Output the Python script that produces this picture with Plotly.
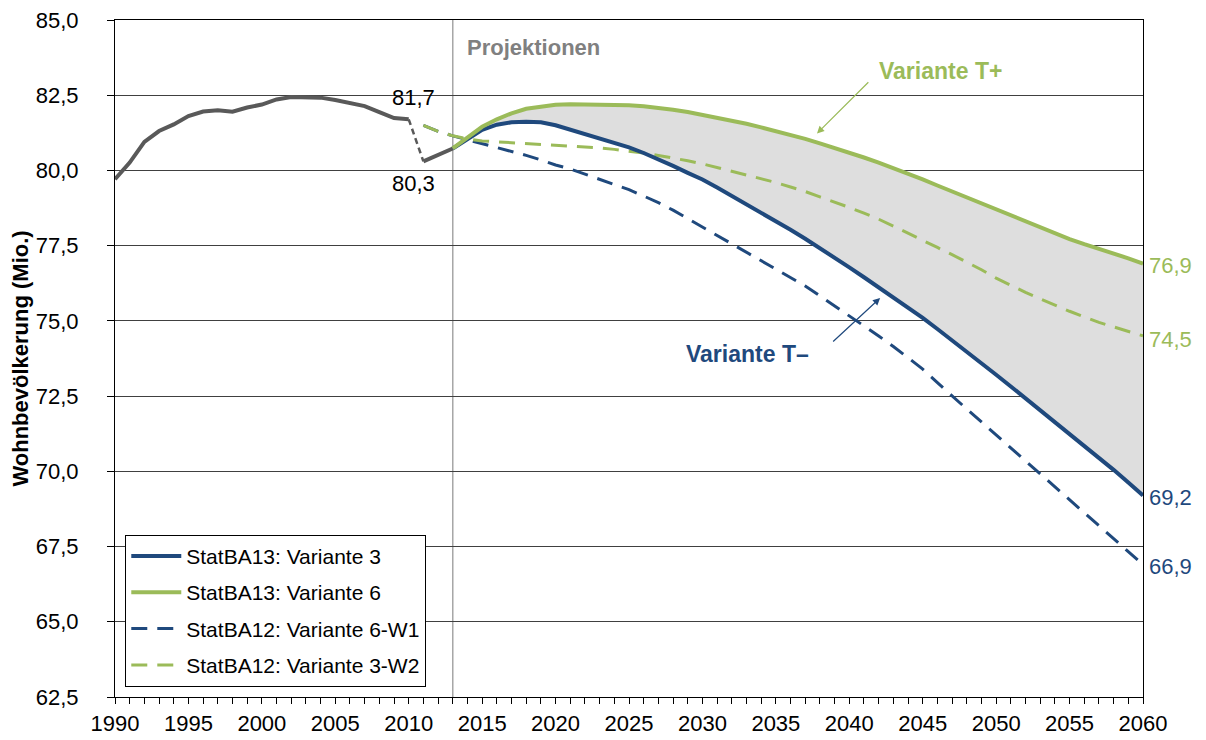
import plotly.graph_objects as go

# ---------------- data ----------------
hist_years = list(range(1990, 2011))
hist_vals = [79.71, 80.26, 80.95, 81.31, 81.53, 81.81, 81.96, 82.0, 81.95, 82.09, 82.19,
             82.36, 82.44, 82.44, 82.42, 82.34, 82.23, 82.14, 81.94, 81.74, 81.7]
census_years = [2010, 2011]
census_vals = [81.7, 80.3]
post_years = [2011, 2012, 2013]
post_vals = [80.3, 80.51, 80.73]

proj_years = list(range(2013, 2061))
v6 = [80.73, 81.1, 81.45, 81.7, 81.9, 82.05, 82.13, 82.18, 82.2, 82.2, 82.2, 82.19, 82.17,
      82.13, 82.08, 82.02, 81.94, 81.85, 81.76, 81.66, 81.55, 81.43, 81.31, 81.18, 81.05,
      80.9, 80.75, 80.6, 80.43, 80.26, 80.08, 79.9, 79.7, 79.5, 79.3, 79.1, 78.9, 78.7,
      78.5, 78.3, 78.1, 77.9, 77.72, 77.55, 77.4, 77.25, 77.08, 76.9]
v3 = [80.73, 81.05, 81.35, 81.52, 81.6, 81.62, 81.6, 81.5, 81.35, 81.2, 81.07, 80.92, 80.77,
      80.58, 80.38, 80.15, 79.92, 79.7, 79.43, 79.15, 78.9, 78.62, 78.33, 78.03, 77.73,
      77.42, 77.1, 76.78, 76.45, 76.12, 75.78, 75.44, 75.1, 74.73, 74.36, 73.98, 73.6,
      73.21, 72.82, 72.43, 72.04, 71.65, 71.25, 70.85, 70.45, 70.05, 69.63, 69.2]

old_years = list(range(2011, 2061))
v3w2 = [81.5, 81.3, 81.15, 81.05, 80.98, 80.95, 80.92, 80.89, 80.86, 80.84, 80.82, 80.79,
        80.75, 80.7, 80.65, 80.58, 80.5, 80.42, 80.32, 80.22, 80.1, 79.98, 79.86, 79.73,
        79.6, 79.45, 79.3, 79.12, 78.95, 78.77, 78.58, 78.38, 78.15, 77.92, 77.68, 77.44,
        77.2, 76.95, 76.7, 76.42, 76.18, 75.95, 75.73, 75.52, 75.32, 75.13, 74.95, 74.8,
        74.65, 74.5]
v6w1 = [81.5, 81.3, 81.15, 81.02, 80.9, 80.78, 80.64, 80.5, 80.35, 80.18, 80.05, 79.88,
        79.72, 79.55, 79.36, 79.15, 78.93, 78.68, 78.4, 78.12, 77.84, 77.56, 77.28, 77.0,
        76.72, 76.44, 76.16, 75.83, 75.5, 75.16, 74.82, 74.5, 74.15, 73.78, 73.4, 72.95,
        72.5, 72.07, 71.64, 71.21, 70.78, 70.35, 69.92, 69.49, 69.06, 68.63, 68.2, 67.77,
        67.33, 66.9]

names = ["StatBA13: Variante 3", "StatBA13: Variante 6",
         "StatBA12: Variante 6-W1", "StatBA12: Variante 3-W2"]
y_ticks = [62.5, 65.0, 67.5, 70.0, 72.5, 75.0, 77.5, 80.0, 82.5, 85.0]
x_ticks = list(range(1990, 2061, 5))

# ---------------- styles ----------------
BLUE = "#1F497D"
GREEN = "#9BBB59"
GRAY = "#595959"
FILL = "#DEDEDE"
FONT = "Liberation Sans, Arial, sans-serif"
DASH = "16px,10px"

fig = go.Figure()

# gray band between the two StatBA13 variants
fig.add_trace(go.Scatter(x=proj_years, y=v3, mode="lines", line=dict(width=0),
                         showlegend=False, hoverinfo="skip"))
fig.add_trace(go.Scatter(x=proj_years, y=v6, mode="lines", line=dict(width=0),
                         fill="tonexty", fillcolor=FILL, showlegend=False, hoverinfo="skip"))

# dashed old projections (blue below green)
fig.add_trace(go.Scatter(x=old_years, y=v6w1, mode="lines", name=names[2], legendrank=3,
                         legendgroup="c", line=dict(color=BLUE, width=3, dash=DASH)))
fig.add_trace(go.Scatter(x=old_years, y=v3w2, mode="lines", name=names[3], legendrank=4,
                         legendgroup="d", line=dict(color=GREEN, width=3, dash=DASH)))

# history
fig.add_trace(go.Scatter(x=hist_years, y=hist_vals, mode="lines", showlegend=False,
                         line=dict(color=GRAY, width=4)))
fig.add_trace(go.Scatter(x=census_years, y=census_vals, mode="lines", showlegend=False,
                         line=dict(color=GRAY, width=2.5, dash="6px,4px")))
fig.add_trace(go.Scatter(x=post_years, y=post_vals, mode="lines", showlegend=False,
                         line=dict(color=GRAY, width=4)))

# solid new projections
fig.add_trace(go.Scatter(x=proj_years, y=v3, mode="lines", name=names[0], legendrank=1,
                         legendgroup="a", line=dict(color=BLUE, width=4)))
fig.add_trace(go.Scatter(x=proj_years, y=v6, mode="lines", name=names[1], legendrank=2,
                         legendgroup="b", line=dict(color=GREEN, width=4)))

# vertical line at start of projections
fig.add_shape(type="line", x0=2013, x1=2013, xref="x", y0=0, y1=1, yref="paper",
              line=dict(color="#A6A6A6", width=1.5), layer="below")

ann = []
def txt(x, y, t, color, size=22, bold=False, xanchor="center", xshift=0, yshift=0):
    ann.append(dict(x=x, y=y, xref="x", yref="y", text=f"<b>{t}</b>" if bold else t,
                    showarrow=False, xanchor=xanchor, yanchor="middle", xshift=xshift,
                    yshift=yshift, font=dict(family=FONT, size=size, color=color)))

txt(2010.3, 82.42, "81,7", "#000000")
txt(2010.3, 79.57, "80,3", "#000000")
txt(2013, 84.1, "Projektionen", "#808080", size=22, bold=True, xanchor="left", xshift=12)
txt(2046.2, 83.31, "Variante T+", GREEN, size=23, bold=True)
txt(2033.1, 73.91, "Variante T–", BLUE, size=23, bold=True)
txt(2060, v6[-1], "76,9", GREEN, xanchor="left", xshift=4, yshift=-2)
txt(2060, v3w2[-1], "74,5", GREEN, xanchor="left", xshift=4, yshift=-4)
txt(2060, v3[-1], "69,2", BLUE, xanchor="left", xshift=4, yshift=-2)
txt(2060, v6w1[-1], "66,9", BLUE, xanchor="left", xshift=4, yshift=-2)

# arrows
ann.append(dict(x=2037.8, y=81.23, ax=2041.4, ay=82.98, xref="x", yref="y",
                axref="x", ayref="y", text="", showarrow=True, arrowhead=2,
                arrowsize=1.2, arrowwidth=1.2, arrowcolor=GREEN))
ann.append(dict(x=2042.1, y=75.76, ax=2038.8, ay=74.27, xref="x", yref="y",
                axref="x", ayref="y", text="", showarrow=True, arrowhead=2,
                arrowsize=1.2, arrowwidth=1.2, arrowcolor=BLUE))

fig.update_layout(
    width=1206, height=740,
    margin=dict(l=107, r=71, t=12, b=51, autoexpand=False),
    paper_bgcolor="white", plot_bgcolor="white",
    separators=",.",
    font=dict(family=FONT, size=22, color="#000000"),
    annotations=ann,
    legend=dict(x=0.01, y=0.015, xanchor="left", yanchor="bottom",
                bordercolor="#000000", borderwidth=1, bgcolor="white",
                font=dict(family=FONT, size=21, color="#000000"),
                traceorder="grouped", tracegroupgap=6, itemwidth=50),
    showlegend=True,
)
fig.update_xaxes(range=[1990, 2060], tickvals=x_ticks, ticks="outside", ticklen=6,
                 tickcolor="#000000", showgrid=False, showline=True, linecolor="#000000",
                 linewidth=1.2, mirror=True, zeroline=False, automargin=False,
                 tickfont=dict(size=22),
                 minor=dict(dtick=1, ticks="outside", ticklen=6, tickcolor="#000000",
                            showgrid=False))
fig.update_yaxes(range=[62.5, 85.0], tickvals=y_ticks, tickformat=".1f", ticks="outside",
                 ticklen=7, tickcolor="#000000", showgrid=True, gridcolor="#404040",
                 gridwidth=1, showline=True, linecolor="#000000", linewidth=1.2,
                 mirror=True, zeroline=False, automargin=False, tickfont=dict(size=22),
                 ticklabelposition="outside", ticklabelstandoff=24,
                 ticklabeloverflow="allow",
                 title=dict(text="<b>Wohnbevölkerung (Mio.)</b>", font=dict(size=22),
                            standoff=0))

fig.write_html("out.html")
